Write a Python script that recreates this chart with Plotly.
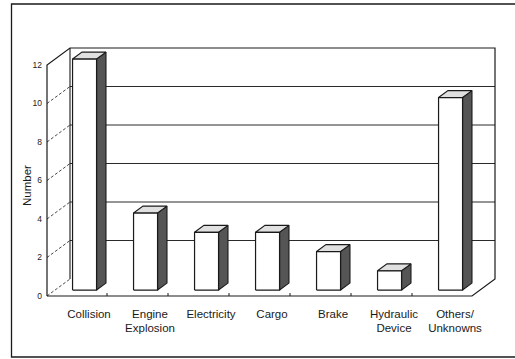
import plotly.graph_objects as go

# ---------------- data ----------------
categories = ["Collision", "Engine<br>Explosion", "Electricity", "Cargo",
              "Brake", "Hydraulic<br>Device", "Others/<br>Unknowns"]
values = [12, 4, 3, 3, 2, 1, 10]
y_tick_values = [0, 2, 4, 6, 8, 10, 12]
y_title = "Number"

# ---------------- geometry / style constants ----------------
W, H = 515, 359
PX_X, PX_Y = 61.0, 19.25          # pixels per category / per unit
AXIS_PX, FLOOR_PX = 47.0, 296.0   # front axis x, floor y (pixels)
PL, PR, PT, PB = 45, 498, 40, 299  # plot area (pixels)
X_FRONT = -29.5 / PX_X            # data x of the front axis
X_FRONT_RIGHT = X_FRONT + (472 - AXIS_PX) / PX_X
WALL_DX, WALL_DY = 23 / PX_X, 17 / PX_Y
BAR_W = 24 / PX_X
FRONT_D, BACK_D = 0.35, 0.76
LABEL_SHIFT = 12.5 / PX_X
Y_TOP = max(y_tick_values)

xr = [X_FRONT + (PL - AXIS_PX) / PX_X, X_FRONT + (PR - AXIS_PX) / PX_X]
yr = [(FLOOR_PX - PB) / PX_Y, (FLOOR_PX - PT) / PX_Y]

INK = "#1a1a1a"
FONT = "Liberation Sans, Arial, sans-serif"

fig = go.Figure()

def seg_trace(xs, ys, color=INK, width=1.1, dash="solid"):
    fig.add_trace(go.Scatter(x=xs, y=ys, mode="lines",
                             line=dict(color=color, width=width, dash=dash),
                             hoverinfo="skip", showlegend=False))

# back wall grid lines
gx, gy = [], []
for v in y_tick_values[1:-1]:
    gx += [X_FRONT + WALL_DX, X_FRONT_RIGHT + WALL_DX, None]
    gy += [v + WALL_DY, v + WALL_DY, None]
seg_trace(gx, gy, color="#2a2a2a", width=1.0)

# left wall diagonals
dx, dy = [], []
for v in y_tick_values[:-1]:
    dx += [X_FRONT, X_FRONT + WALL_DX, None]
    dy += [v, v + WALL_DY, None]
seg_trace(dx, dy, color="#333333", width=0.9, dash="3px,2px")

# frame outline
seg_trace([X_FRONT, X_FRONT, X_FRONT + WALL_DX, X_FRONT_RIGHT + WALL_DX,
           X_FRONT_RIGHT + WALL_DX, X_FRONT_RIGHT, X_FRONT],
          [0, Y_TOP, Y_TOP + WALL_DY, Y_TOP + WALL_DY, WALL_DY, 0, 0], width=1.2)
seg_trace([X_FRONT + WALL_DX, X_FRONT + WALL_DX], [WALL_DY, Y_TOP + WALL_DY], width=1.1)

# small floor ticks between categories
tx, ty = [], []
for i in range(len(categories) - 1):
    tx += [i + 0.5, i + 0.5, None]
    ty += [0, 3 / PX_Y, None]
seg_trace(tx, ty, width=1.0)

# bars (front, side, top)
fx_all, fy_all, sx_all, sy_all, tpx, tpy = [], [], [], [], [], []
for i, v in enumerate(values):
    fx = i + FRONT_D * WALL_DX
    fy = FRONT_D * WALL_DY
    bx = i + BACK_D * WALL_DX
    by = BACK_D * WALL_DY
    h = BAR_W / 2
    fx_all += [fx - h, fx + h, fx + h, fx - h, fx - h, None]
    fy_all += [fy, fy, fy + v, fy + v, fy, None]
    sx_all += [fx + h, bx + h, bx + h, fx + h, fx + h, None]
    sy_all += [fy, by, by + v, fy + v, fy, None]
    tpx += [fx - h, fx + h, bx + h, bx - h, fx - h, None]
    tpy += [fy + v, fy + v, by + v, by + v, fy + v, None]

fig.add_trace(go.Scatter(x=sx_all, y=sy_all, mode="lines", fill="toself",
                         fillcolor="#555555", line=dict(color=INK, width=1.1),
                         hoverinfo="skip", showlegend=False))
fig.add_trace(go.Scatter(x=tpx, y=tpy, mode="lines", fill="toself",
                         fillcolor="#e0e0e0", line=dict(color=INK, width=1.1),
                         hoverinfo="skip", showlegend=False))
fig.add_trace(go.Scatter(x=fx_all, y=fy_all, mode="lines", fill="toself",
                         fillcolor="#ffffff", line=dict(color=INK, width=1.2),
                         hoverinfo="skip", showlegend=False))

# outer border (left, top, bottom)
def px2paper_x(p):
    return (p - PL) / (PR - PL)

def px2paper_y(p):
    return (PB - p) / (PB - PT)

fig.add_shape(type="path", xref="paper", yref="paper",
              path=(f"M {px2paper_x(520)} {px2paper_y(4)} L {px2paper_x(11.5)} {px2paper_y(4)} "
                    f"L {px2paper_x(11.5)} {px2paper_y(357)} L {px2paper_x(520)} {px2paper_y(357)}"),
              line=dict(color=INK, width=1.3))

fig.add_annotation(text=y_title, xref="paper", yref="paper",
                   x=px2paper_x(27), y=px2paper_y(186), textangle=-90,
                   xanchor="center", yanchor="middle",
                   showarrow=False, font=dict(family=FONT, size=11.5, color=INK))

fig.update_layout(
    width=W, height=H,
    margin=dict(l=PL, r=W - PR, t=PT, b=H - PB, pad=0),
    paper_bgcolor="white", plot_bgcolor="white",
    font=dict(family=FONT, color=INK),
    showlegend=False,
    xaxis=dict(range=xr, showgrid=False, zeroline=False, showline=False,
               tickmode="array", tickvals=[i + LABEL_SHIFT for i in range(len(categories))],
               ticktext=categories, ticks="", tickfont=dict(size=11.5, color=INK),
               ticklabelstandoff=6, fixedrange=True),
    yaxis=dict(range=yr, showgrid=False, zeroline=False, showline=False,
               tickmode="array", tickvals=y_tick_values,
               ticktext=[str(v) for v in y_tick_values], ticks="",
               tickfont=dict(size=8.5, color=INK), ticklabelstandoff=2, fixedrange=True),
)

fig.write_html("out.html")
